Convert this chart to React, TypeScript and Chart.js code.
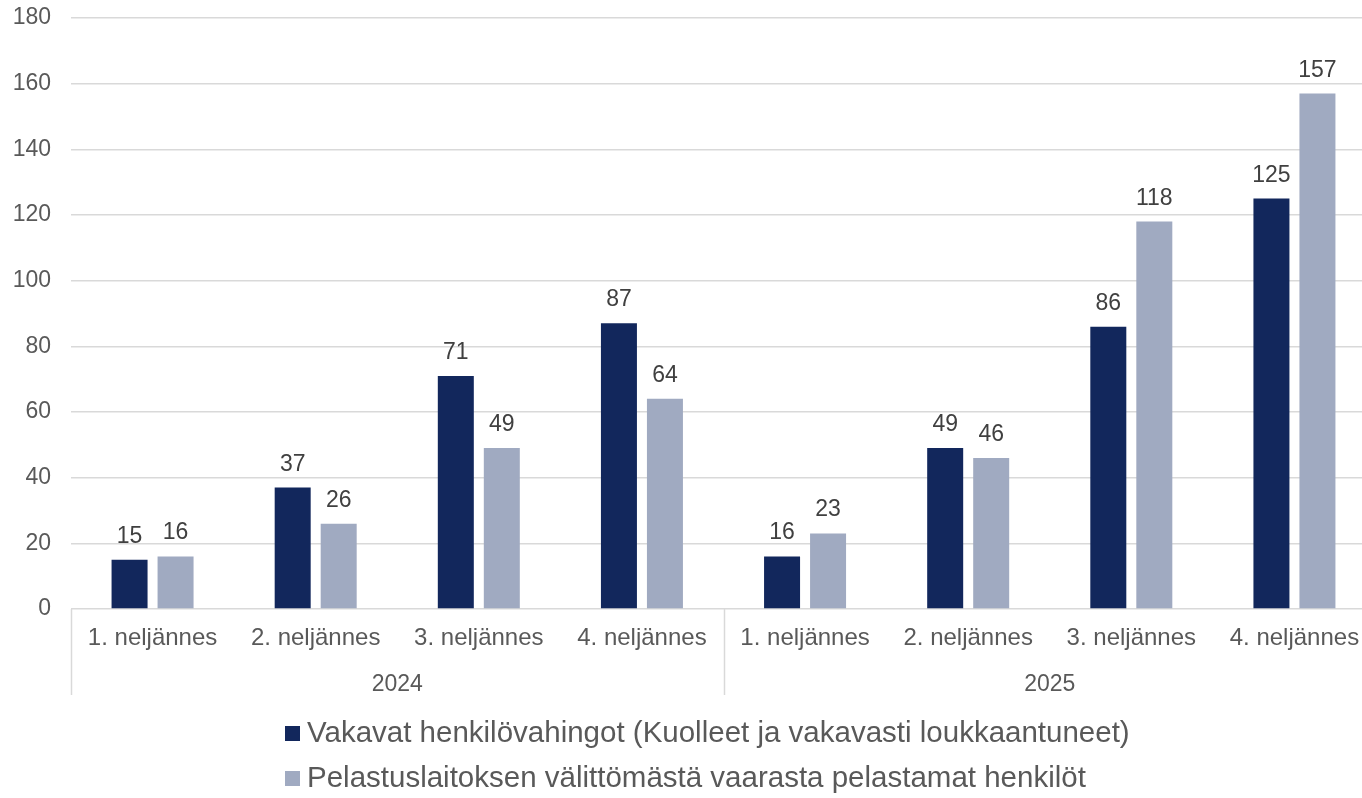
import React, { useEffect, useRef } from "react";
import { Chart, registerables } from "chart.js";

Chart.register(...registerables);

const quarters = ["1. neljännes", "2. neljännes", "3. neljännes", "4. neljännes", "1. neljännes", "2. neljännes", "3. neljännes", "4. neljännes"];
const years = ["2024", "2025"];
const seriesNames = [
  "Vakavat henkilövahingot (Kuolleet ja vakavasti loukkaantuneet)",
  "Pelastuslaitoksen välittömästä vaarasta pelastamat henkilöt",
];
const severeInjuries = [15, 37, 71, 87, 16, 49, 86, 125];
const rescuedPersons = [16, 26, 49, 64, 23, 46, 118, 157];
const colors = ["#12275C", "#A0AAC1"];

const FONT = "'Liberation Sans', Arial, sans-serif";
const TEXT = "#595959";

const customPlugin = {
  id: "customDraw",
  afterDatasetsDraw(chart: any) {
    const ctx = chart.ctx;
    ctx.save();
    ctx.font = `23px ${FONT}`;
    ctx.fillStyle = "#404040";
    ctx.textAlign = "center";
    ctx.textBaseline = "alphabetic";
    chart.data.datasets.forEach((ds: any, di: number) => {
      const meta = chart.getDatasetMeta(di);
      meta.data.forEach((bar: any, i: number) => {
        ctx.fillText(String(ds.data[i]), bar.x, bar.y - 17);
      });
    });
    ctx.restore();
  },
  afterDraw(chart: any) {
    const ctx = chart.ctx;
    const x = chart.scales.x;
    const area = chart.chartArea;
    ctx.save();
    ctx.strokeStyle = "#D9D9D9";
    ctx.lineWidth = 1.5;
    const n = quarters.length;
    const step = (x.right - x.left) / n;
    const per = n / years.length;
    for (let g = 0; g <= years.length; g++) {
      const px = Math.round(x.left + g * per * step) + 0.5;
      ctx.beginPath();
      ctx.moveTo(px, area.bottom);
      ctx.lineTo(px, area.bottom + 86);
      ctx.stroke();
    }
    ctx.font = `23px ${FONT}`;
    ctx.fillStyle = TEXT;
    ctx.textAlign = "center";
    ctx.textBaseline = "middle";
    years.forEach((y, g) => {
      const cx = x.left + (g + 0.5) * per * step;
      ctx.fillText(y, cx, area.bottom + 76);
    });
    ctx.font = `29.5px ${FONT}`;
    ctx.textAlign = "left";
    ctx.textBaseline = "middle";
    const lx = 285;
    const rows = [733, 778];
    seriesNames.forEach((name, i) => {
      ctx.fillStyle = colors[i];
      ctx.fillRect(lx, rows[i] - 7, 15, 15);
      ctx.fillStyle = TEXT;
      ctx.fillText(name, lx + 22, rows[i] + 1);
    });
    ctx.restore();
  },
};

export default function App() {
  const ref = useRef<HTMLCanvasElement | null>(null);
  useEffect(() => {
    document.body.style.margin = "0";
    document.body.style.overflow = "hidden";
    const chart = new Chart(ref.current as HTMLCanvasElement, {
      type: "bar",
      data: {
        labels: quarters,
        datasets: [
          { label: seriesNames[0], data: severeInjuries, backgroundColor: colors[0], categoryPercentage: 0.564, barPercentage: 0.7826 },
          { label: seriesNames[1], data: rescuedPersons, backgroundColor: colors[1], categoryPercentage: 0.564, barPercentage: 0.7826 },
        ],
      },
      options: {
        animation: false,
        responsive: false,
        maintainAspectRatio: false,
        layout: { padding: { top: 18, right: 0, left: 0, bottom: 0 } },
        plugins: { legend: { display: false }, tooltip: { enabled: false } },
        scales: {
          x: {
            grid: { display: false, drawTicks: false },
            border: { display: false },
            ticks: { font: { size: 24, family: FONT }, color: TEXT, padding: 15, maxRotation: 0, autoSkip: false },
            afterFit: (s: any) => { s.height = 189; s.paddingLeft = 0; s.paddingRight = 0; },
          },
          y: {
            min: 0,
            max: 180,
            ticks: { stepSize: 20, font: { size: 23, family: FONT }, color: TEXT, padding: 20 },
            grid: { color: "#D9D9D9", lineWidth: 1.5, drawTicks: false },
            border: { display: false },
            afterFit: (s: any) => { s.width = 71; s.paddingTop = 0; s.paddingBottom = 0; },
          },
        },
      },
      plugins: [customPlugin],
    });
    return () => chart.destroy();
  }, []);
  return (
    <div style={{ width: 1362, height: 798, overflow: "hidden" }}>
      <canvas ref={ref} width={1376} height={798} style={{ display: "block" }} />
    </div>
  );
}
